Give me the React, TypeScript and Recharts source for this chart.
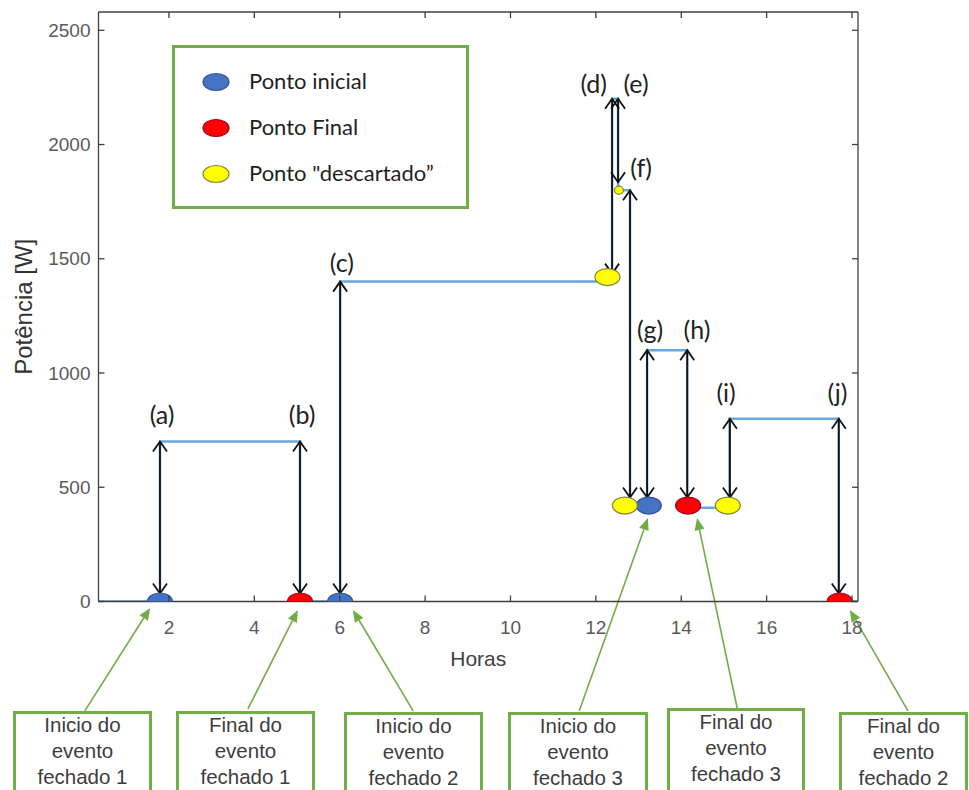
import React from 'react';
import { ComposedChart, Line, Scatter, XAxis, YAxis, ReferenceLine, ReferenceDot, Legend } from 'recharts';

// ---- data (hours, watts) ----
const stairHours = [0.35, 1.79, 5.07, 6.01, 12.38, 12.52, 12.8, 13.2, 14.14, 15.13, 17.69, 18.14];
const stairWatts = [0, 700, 0, 1400, 2200, 1800, 420, 1100, 410, 800, 0, 0];

const initialHours = [1.79, 6.01, 13.24];
const initialWatts = [0, 0, 420];
const finalHours = [5.07, 14.16, 17.71];
const finalWatts = [0, 420, 0];
const discardedHours = [12.27, 12.68, 15.09];
const discardedWatts = [1420, 420, 420];
const smallDiscardedHours = [12.54];
const smallDiscardedWatts = [1800];

const arrowHours = [1.79, 5.07, 6.01, 12.38, 12.52, 12.8, 13.2, 14.14, 15.14, 17.69];
const arrowFromWatts = [0, 0, 0, 1400, 1800, 420, 420, 420, 420, 0];
const arrowToWatts = [700, 700, 1400, 2200, 2200, 1800, 1100, 1100, 800, 800];

const arrowLabels = ['(a)', '(b)', '(c)', '(d)', '(e)', '(f)', '(g)', '(h)', '(i)', '(j)'];
const labelHours = [1.84, 5.12, 6.05, 11.95, 12.94, 13.06, 13.27, 14.37, 15.05, 17.66];
const labelWatts = [820, 820, 1485, 2268, 2268, 1900, 1192, 1192, 916, 916];

const calloutFromHours = [0.03, 3.85, 7.72, 11.61, 15.31, 19.31];
const calloutFromWatts = [-479, -470, -479, -479, -466, -479];
const calloutToHours = [1.56, 5.02, 6.31, 13.22, 14.37, 17.95];
const calloutToWatts = [-28, -37, -37, 365, 365, -37];

const calloutTexts = [
  ['Inicio do', 'evento', 'fechado 1'],
  ['Final do', 'evento', 'fechado 1'],
  ['Inicio do', 'evento', 'fechado 2'],
  ['Inicio do', 'evento', 'fechado 3'],
  ['Final do', 'evento', 'fechado 3'],
  ['Final do', 'evento', 'fechado 2'],
];

const xTicks = [2, 4, 6, 8, 10, 12, 14, 16, 18];
const yTicks = [0, 500, 1000, 1500, 2000, 2500];
const legendNames = ['Ponto inicial', 'Ponto Final', 'Ponto "descartado”'];

// ---- layout / style ----
const boxLeft = [13, 176, 344, 508, 667, 839];
const boxTop = [711, 711, 712, 712, 708, 712];
const boxWidth = [139, 139, 139, 140, 138, 129];

const AXIS = '#3f3f3f';
const TICK_TEXT = '#5a5a5a';
const SANS = '"Liberation Sans", Arial, sans-serif';
const HUMAN = 'Lato, "Open Sans", sans-serif';
const GREEN = '#70ad47';

const colors: Record<string, { fill: string; stroke: string }> = {
  initial: { fill: '#4472c4', stroke: '#2f528f' },
  final: { fill: '#ff0000', stroke: '#a50021' },
  discarded: { fill: '#ffff00', stroke: '#7f7f3f' },
};

const stairData = stairHours.map((h, i) => ({ h, w: stairWatts[i] }));
const toPts = (hs: number[], ws: number[]) => hs.map((h, i) => ({ h, w: ws[i] }));

const ellipse = (rx: number, ry: number, c: { fill: string; stroke: string }) => (p: any) => (
  <ellipse cx={p.cx} cy={p.cy} rx={rx} ry={ry} fill={c.fill} stroke={c.stroke} strokeWidth={1.2} />
);

const YTick = (p: any) => (
  <g>
    <line x1={p.x} x2={p.x + 6} y1={p.y} y2={p.y} stroke={AXIS} strokeWidth={1.3} />
    <text x={p.x - 8} y={p.y} textAnchor="end" dominantBaseline="central" fontSize={19} fill={TICK_TEXT} fontFamily={SANS}>
      {p.payload.value}
    </text>
  </g>
);
const XTick = (p: any) => (
  <g>
    <line x1={p.x} x2={p.x} y1={p.y} y2={p.y - 6} stroke={AXIS} strokeWidth={1.3} />
    <text x={p.x} y={p.y + 26} textAnchor="middle" dominantBaseline="central" fontSize={19} fill={TICK_TEXT} fontFamily={SANS}>
      {p.payload.value}
    </text>
  </g>
);
const TopTick = (p: any) => <line x1={p.x} x2={p.x} y1={p.y} y2={p.y + 6} stroke={AXIS} strokeWidth={1.3} />;
const RightTick = (p: any) => <line x1={p.x} x2={p.x - 6} y1={p.y} y2={p.y} stroke={AXIS} strokeWidth={1.3} />;

const ArrowShape = (p: any) => {
  const x = p.x1;
  const yb = Math.max(p.y1, p.y2) - 8;
  const yt = Math.min(p.y1, p.y2);
  const hw = 7;
  const hl = 10;
  return (
    <g stroke="#111" strokeWidth={1.8} fill="none">
      <line x1={x} y1={yb} x2={x} y2={yt} />
      <polyline points={`${x - hw},${yt + hl} ${x},${yt} ${x + hw},${yt + hl}`} />
      <polyline points={`${x - hw},${yb - hl} ${x},${yb} ${x + hw},${yb - hl}`} />
    </g>
  );
};

const CalloutShape = (p: any) => {
  const dx = p.x2 - p.x1;
  const dy = p.y2 - p.y1;
  const len = Math.hypot(dx, dy) || 1;
  const ux = dx / len;
  const uy = dy / len;
  const hl = 12;
  const hw = 5;
  const bx = p.x2 - ux * hl;
  const by = p.y2 - uy * hl;
  return (
    <g>
      <line x1={p.x1} y1={p.y1} x2={bx} y2={by} stroke={GREEN} strokeWidth={1.6} />
      <polygon points={`${p.x2},${p.y2} ${bx - uy * hw},${by + ux * hw} ${bx + uy * hw},${by - ux * hw}`} fill={GREEN} />
    </g>
  );
};

const LabelText = (text: string) => (p: any) => (
  <text x={p.cx} y={p.cy} textAnchor="middle" dominantBaseline="central" fontSize={25} fill="#222" fontFamily={HUMAN}>
    {text}
  </text>
);

const legendKeys = ['initial', 'final', 'discarded'];
const LegendBox = () => (
  <svg width={297} height={164} style={{ display: 'block' }}>
    <rect x={1.5} y={1.5} width={294} height={161} fill="#fff" stroke={GREEN} strokeWidth={3} />
    {legendNames.map((n, i) => (
      <g key={n}>
        <ellipse cx={44} cy={37 + i * 46} rx={13} ry={8.5} fill={colors[legendKeys[i]].fill} stroke={colors[legendKeys[i]].stroke} strokeWidth={1.2} />
        <text x={77} y={35 + i * 46} dominantBaseline="central" fontSize={22} fill="#1f1f1f" fontFamily={HUMAN}>
          {n}
        </text>
      </g>
    ))}
  </svg>
);

export default function App() {
  return (
    <div style={{ position: 'absolute', left: 0, top: 0, width: 969, height: 790, overflow: 'hidden', background: '#fff' }}>
      <ComposedChart width={969} height={790} data={stairData} margin={{ top: 11, right: 110, left: 0, bottom: 158.5 }}>
        <XAxis
          dataKey="h"
          type="number"
          domain={[0.35, 18.14]}
          ticks={xTicks}
          interval={0}
          allowDataOverflow
          height={30}
          tickSize={0}
          tickMargin={0}
          tickLine={false}
          tick={XTick}
          stroke={AXIS}
          strokeWidth={1.3}
          label={{
            content: (p: any) => (
              <text x={p.viewBox.x + p.viewBox.width / 2} y={p.viewBox.y + 57} textAnchor="middle" dominantBaseline="central" fontSize={21} fill="#404040" fontFamily={SANS}>
                Horas
              </text>
            ),
          }}
        />
        <XAxis xAxisId="top" orientation="top" dataKey="h" type="number" domain={[0.35, 18.14]} ticks={xTicks} interval={0} allowDataOverflow height={1} tickSize={0} tickMargin={0} tickLine={false} tick={TopTick} stroke={AXIS} strokeWidth={1.3} />
        <YAxis
          type="number"
          domain={[0, 2580]}
          ticks={yTicks}
          interval={0}
          allowDataOverflow
          width={98.5}
          tickSize={0}
          tickMargin={0}
          tickLine={false}
          tick={YTick}
          stroke={AXIS}
          strokeWidth={1.3}
          label={{
            content: (p: any) => {
              const cx = p.viewBox.x + 23;
              const cy = p.viewBox.y + p.viewBox.height / 2;
              return (
                <text x={cx} y={cy} transform={`rotate(-90 ${cx} ${cy})`} textAnchor="middle" dominantBaseline="central" fontSize={24} fill="#333" fontFamily={SANS}>
                  Potência [W]
                </text>
              );
            },
          }}
        />
        <YAxis yAxisId="right" orientation="right" type="number" domain={[0, 2580]} ticks={yTicks} interval={0} allowDataOverflow width={1} tickSize={0} tickMargin={0} tickLine={false} tick={RightTick} stroke={AXIS} strokeWidth={1.3} />

        <Line type="stepAfter" dataKey="w" stroke="#6aa6d8" strokeWidth={2.5} dot={false} activeDot={false} legendType="none" isAnimationActive={false} />

        {arrowHours.map((h, i) => (
          <ReferenceLine key={'ar' + i} segment={[{ x: h, y: arrowFromWatts[i] }, { x: h, y: arrowToWatts[i] }]} shape={ArrowShape} ifOverflow="visible" />
        ))}

        <Scatter name={legendNames[0]} data={toPts(initialHours, initialWatts)} dataKey="w" fill={colors.initial.fill} shape={ellipse(12.5, 8.5, colors.initial)} isAnimationActive={false} />
        <Scatter name={legendNames[1]} data={toPts(finalHours, finalWatts)} dataKey="w" fill={colors.final.fill} shape={ellipse(12.5, 8.5, colors.final)} isAnimationActive={false} />
        <Scatter name={legendNames[2]} data={toPts(discardedHours, discardedWatts)} dataKey="w" fill={colors.discarded.fill} shape={ellipse(12.5, 8.5, colors.discarded)} isAnimationActive={false} />
        <Scatter name="small" legendType="none" data={toPts(smallDiscardedHours, smallDiscardedWatts)} dataKey="w" fill={colors.discarded.fill} shape={ellipse(4.5, 4, colors.discarded)} isAnimationActive={false} />

        {arrowLabels.map((t, i) => (
          <ReferenceDot key={'lb' + i} x={labelHours[i]} y={labelWatts[i]} r={0} shape={LabelText(t)} ifOverflow="visible" />
        ))}

        {calloutFromHours.map((h, i) => (
          <ReferenceLine key={'co' + i} segment={[{ x: h, y: calloutFromWatts[i] }, { x: calloutToHours[i], y: calloutToWatts[i] }]} shape={CalloutShape} ifOverflow="visible" />
        ))}

        <Legend layout="vertical" align="center" verticalAlign="middle" wrapperStyle={{ left: 172, top: 45, width: 297, height: 164 }} content={LegendBox} />
      </ComposedChart>

      {calloutTexts.map((lines, i) => (
        <div
          key={'box' + i}
          style={{
            position: 'absolute',
            left: boxLeft[i],
            top: boxTop[i],
            width: boxWidth[i],
            height: 110,
            boxSizing: 'border-box',
            border: `3px solid ${GREEN}`,
            background: '#fff',
            textAlign: 'center',
            fontFamily: SANS,
            fontSize: 20.5,
            lineHeight: '26px',
            color: '#3d3d3d',
            paddingTop: 0,
          }}
        >
          <div style={{ marginTop: -2 }}>
            {lines.map((l, j) => (
              <div key={j} style={{ whiteSpace: 'nowrap' }}>{l}</div>
            ))}
          </div>
        </div>
      ))}
    </div>
  );
}
